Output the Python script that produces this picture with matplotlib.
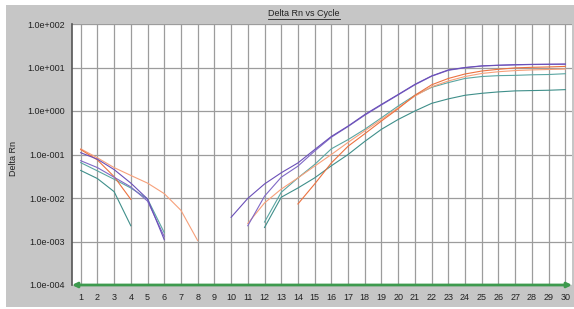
import numpy as np
import matplotlib
matplotlib.use("Agg")
import matplotlib.pyplot as plt
from matplotlib.patches import Rectangle
from matplotlib.lines import Line2D

nan = np.nan

# cycles and Delta Rn readings (nan = not plotted)
cycles = list(range(1, 31))

purple_a = [0.11, 0.078, 0.045, 0.022, 0.0095, 0.0011, nan, nan, nan,
            0.0036, 0.0098, 0.021, 0.038, 0.064, 0.13, 0.26, 0.45, 0.83, 1.42, 2.4,
            4.1, 6.4, 8.8, 10.0, 10.9, 11.3, 11.6, 11.8, 11.9, 12.0]
purple_b = [0.072, 0.05, 0.03, 0.018, 0.0085, 0.0013, nan, nan, nan,
            nan, 0.0023, 0.011, 0.030, 0.054, 0.12, 0.25, 0.44, 0.80, 1.38, 2.35,
            4.0, 6.3, 8.6, 9.9, 10.8, 11.2, 11.5, 11.7, 11.8, 11.9]
teal_a = [0.065, 0.042, 0.027, 0.017, 0.0095, 0.0016, nan, nan, nan,
          nan, nan, 0.0028, 0.0135, 0.029, 0.059, 0.135, 0.22, 0.38, 0.70, 1.3,
          2.3, 3.5, 4.5, 5.6, 6.2, 6.5, 6.6, 6.8, 6.9, 7.2]
teal_b = [0.043, 0.028, 0.014, 0.0023, nan, nan, nan, nan, nan,
          nan, nan, 0.0021, 0.0104, 0.017, 0.029, 0.055, 0.10, 0.20, 0.38, 0.64,
          1.0, 1.5, 1.9, 2.3, 2.55, 2.75, 2.9, 2.95, 3.0, 3.1]
orange_a = [0.135, 0.084, 0.05, 0.033, 0.022, 0.0126, 0.0052, 0.00105, nan,
            nan, 0.0026, 0.0077, 0.016, 0.029, 0.054, 0.10, 0.19, 0.35, 0.64, 1.19,
            2.2, 3.6, 4.9, 6.2, 7.3, 8.0, 8.5, 8.8, 9.0, 9.2]
orange_b = [0.13, 0.075, 0.031, 0.0093, nan, nan, nan, nan, nan,
            nan, nan, nan, nan, 0.0073, 0.021, 0.064, 0.155, 0.30, 0.59, 1.13,
            2.3, 4.0, 5.6, 7.1, 8.3, 9.1, 9.8, 10.1, 10.3, 10.6]

threshold = 1e-4
yticks = [1e-4, 1e-3, 1e-2, 1e-1, 1e0, 1e1, 1e2]
ytick_labels = ["1.0e-004", "1.0e-003", "1.0e-002", "1.0e-001",
                "1.0e+000", "1.0e+001", "1.0e+002"]

series = [
    (teal_b, "#3f8f8a"),
    (teal_a, "#5aa6a2"),
    (orange_a, "#f7a07a"),
    (orange_b, "#ec7240"),
    (purple_b, "#7f68c6"),
    (purple_a, "#6a4fb8"),
]

W, H = 574, 309
plt.rcParams['font.family'] = ['Liberation Sans', 'DejaVu Sans']
fig = plt.figure(figsize=(W / 100, H / 100), dpi=100, facecolor="white")

# grey panel behind everything
fig.patches.append(Rectangle((6 / W, 2 / H), (W - 6) / W, (H - 7) / H,
                             transform=fig.transFigure, facecolor="#c6c6c6",
                             edgecolor="none", zorder=0))

ax = fig.add_axes([72 / W, 1 - 285 / H, 500 / W, 261 / H])
ax.set_zorder(2)
ax.set_facecolor("white")
ax.set_yscale("log")
ax.set_xlim(0.48, 30.4)
ax.set_ylim(1e-4, 1e2)

for xc in cycles:
    ax.axvline(xc, color="#9c9c9c", lw=0.9, zorder=1)
for yv in yticks:
    ax.axhline(yv, color="#9c9c9c", lw=0.9, zorder=1)

for vals, col in series:
    ax.plot(cycles, vals, color=col, lw=0.8, zorder=3)

# threshold line with arrow ends
ax.annotate("", xy=(1.0, threshold), xytext=(0.0, threshold),
            xycoords=("axes fraction", "data"),
            textcoords=("axes fraction", "data"),
            arrowprops=dict(arrowstyle="<|-|>", color="#3d9a4e", lw=2.0,
                            mutation_scale=7, shrinkA=0, shrinkB=0),
            annotation_clip=False, zorder=5)

ax.set_xticks(cycles)
ax.set_xticklabels([str(c) for c in cycles], fontsize=6.5)
ax.set_yticks(yticks)
ax.set_yticklabels(ytick_labels, fontsize=6.5)
ax.minorticks_off()
ax.tick_params(axis="both", length=0, colors="#222222")
ax.tick_params(axis="x", pad=6)
ax.tick_params(axis="y", pad=5)

for s in ["top", "right", "bottom"]:
    ax.spines[s].set_visible(False)
ax.spines["left"].set_color("#555555")
ax.spines["left"].set_linewidth(1.2)

fig.text(14 / W, 1 - 158 / H, "Delta Rn", rotation=90, ha="center",
         va="center", fontsize=6.5, color="#222222", zorder=3)

title = fig.text(304 / W, 1 - 13 / H, "Delta Rn vs Cycle", ha="center",
                 va="center", fontsize=6.5, color="#222222", zorder=3)
fig.canvas.draw()
bb = title.get_window_extent()
uy = bb.y0 - 1
fig.add_artist(Line2D([bb.x0 / W, bb.x1 / W], [uy / H, uy / H],
                      transform=fig.transFigure, color="#222222", lw=0.6,
                      zorder=3))

fig.savefig("out.png", dpi=100, facecolor=fig.get_facecolor())
